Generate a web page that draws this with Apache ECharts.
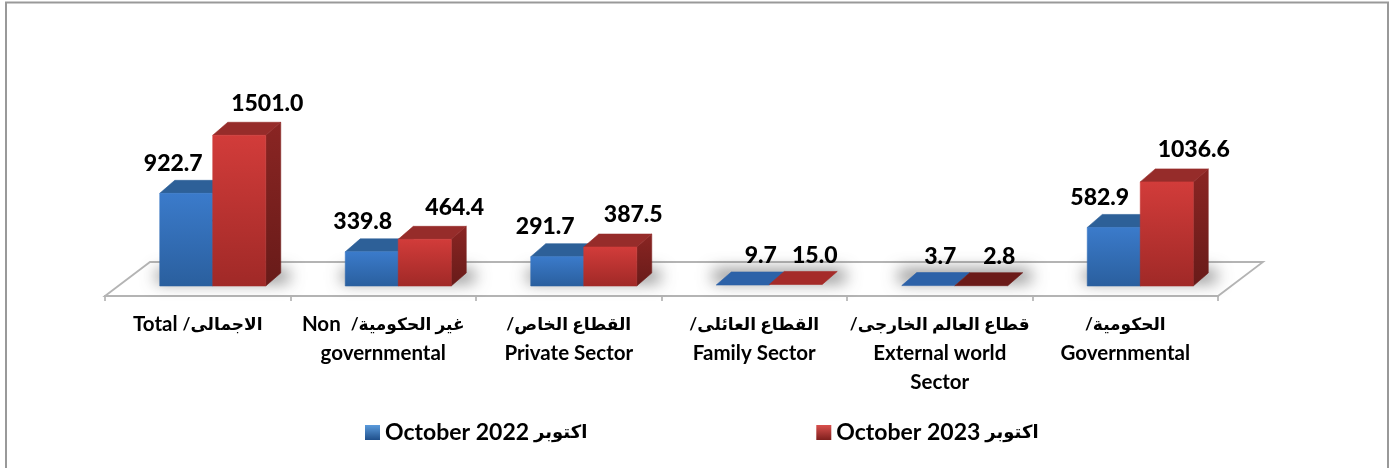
<!DOCTYPE html>
<html><head><meta charset="utf-8">
<style>html,body{margin:0;padding:0;background:#fff}#c{width:1389px;height:468px}</style>
<script src="https://cdn.jsdelivr.net/npm/echarts@6/dist/echarts.min.js"></script>
</head><body><div id="c"></div>
<script>
const categories = [
  'Total /الاجمالى',
  'Non  /غير الحكومية\ngovernmental',
  '/القطاع الخاص\nPrivate Sector',
  '/القطاع العائلى\nFamily Sector',
  '/قطاع العالم الخارجى\nExternal world\nSector',
  '/الحكومية\nGovernmental'
];
const seriesNames = ['October 2022 اكتوبر', 'October 2023 اكتوبر'];
const values2022 = [922.7, 339.8, 291.7, 9.7, 3.7, 582.9];
const values2023 = [1501.0, 464.4, 387.5, 15.0, 2.8, 1036.6];
const labelShift2022 = [-13, -9, -12, 18, 12, -14];
const labelShift2023 = [28, 30, 23, 19, 18, 27];

const FONT = 'Lato, "DejaVu Sans", sans-serif';
const DX = 15, DY = 13;
const FLOOR_DX = 45, FLOOR_DY = 34;
const BAR = 53, SHIFT = 15;
const OFF = 3000;
const grad = (a, b) => ({type:'linear',x:0,y:0,x2:0,y2:1,colorStops:[{offset:0,color:a},{offset:1,color:b}]});
const STYLES = [
  {front:grad('#3b7bcb','#2a5f9e'), top:'#2d6098', flat:'#2d62a8', side:grad('#275a94','#1d4470'), legend:grad('#5b9bdc','#1f4f8a')},
  {front:grad('#d23c3a','#a02927'), top:'#962c2a', flat:'#a52b29', side:grad('#8a2523','#681b19'), legend:grad('#d9504d','#7e1f1d')}
];
// wrap Arabic runs and Latin runs in separate rich-text styles
function richLine(line, ar, la) {
  return line.split(/([\/\u0600-\u06FF][\/\u0600-\u06FF ]*)/).filter(s => s.length)
    .map(s => /[\u0600-\u06FF]/.test(s) ? `{${ar}|${s}}` : `{${la}|${s}}`).join('');
}

function barItem(sIdx, shifts) {
  return function (params, api) {
    const i = api.value(0), v = api.value(1);
    const base = api.coord([i, 0]), head = api.coord([i, v]);
    const x0 = base[0] + SHIFT + (sIdx === 0 ? -BAR : 0), x1 = x0 + BAR;
    const yB = base[1], yT = head[1];
    const st = STYLES[sIdx];
    const poly = (pts, fill) => ({type:'polygon', shape:{points:pts}, style:{fill, stroke:fill, lineWidth:0.6, lineJoin:'round'}});
    const flat = v < 50;
    const topFill = !flat ? st.top : (v < 3 ? '#6b1b19' : st.flat);
    const children = [
      poly([[x0,yT],[x0+DX,yT-DY],[x1+DX,yT-DY],[x1,yT]], topFill)
    ];
    if (!flat) {
      children.unshift(poly([[x1,yB],[x1+DX,yB-DY],[x1+DX,yT-DY],[x1,yT]], st.side));
      children.push(poly([[x0,yB],[x1,yB],[x1,yT],[x0,yT]], st.front));
    }
    children.push({type:'text', z2:20, style:{
      text: api.value(1).toFixed(1),
      x: (x0+x1)/2 + shifts[i],
      y: yT + (flat ? -29 : (sIdx === 0 ? -30 : -32)),
      align:'center', verticalAlign:'middle',
      font:'900 23px '+FONT, fill:'#000'
    }});
    return {type:'group', children};
  };
}

const option = {
  animation:false,
  backgroundColor:'#fff',
  grid:{left:105, right:171, top:115.3, height:180.7},
  xAxis:{
    type:'category', data:categories,
    axisLine:{show:true, onZero:false, lineStyle:{color:'#aaaaaa', width:2}},
    axisTick:{show:true, length:5, alignWithLabel:false, lineStyle:{color:'#aaaaaa', width:1.5}},
    axisLabel:{
      interval:0, margin:14, color:'#000',
      formatter: s => s.split('\n').map(l => richLine(l,'ar','la')).join('\n'),
      rich:{
        ar:{fontFamily:FONT, fontWeight:'bold', fontSize:17, lineHeight:29, color:'#000'},
        la:{fontFamily:FONT, fontWeight:'bold', fontSize:20.5, lineHeight:29, color:'#000'}
      }
    }
  },
  yAxis:{type:'value', min:-100, max:1700, interval:100, show:false, splitLine:{show:false}},
  legend:{
    left:360, top:416, itemWidth:15, itemHeight:15, itemGap:229, icon:'rect',
    data:[
      {name:seriesNames[0], itemStyle:{color:STYLES[0].legend}},
      {name:seriesNames[1], itemStyle:{color:STYLES[1].legend}}
    ],
    formatter: n => richLine(n,'ar','la').replace(' }{', '}{') ,
    textStyle:{
      color:'#000', padding:[0,0,0,0],
      rich:{
        ar:{fontFamily:FONT, fontWeight:'bold', fontSize:18, color:'#000', padding:[0,0,0,5]},
        la:{fontFamily:FONT, fontWeight:'bold', fontSize:23, color:'#000'}
      }
    }
  },
  graphic:[
    {type:'polyline', z:-10, shape:{points:[[6,468],[6,2.5],[1388,2.5],[1388,468]]}, style:{fill:'none', stroke:'#999999', lineWidth:2}},
    {type:'group', z:100, children:[
      {type:'line', shape:{x1:181,y1:246,x2:243,y2:196}, style:{stroke:'#000', lineWidth:1.6}},
      {type:'polyline', shape:{points:[[229,197],[244,195],[238,209]]}, style:{stroke:'#000', fill:'none', lineWidth:1.6}}
    ]}
  ],
  series:[
    {type:'custom', name:'floor', silent:true, clip:false, z:1, data:[[0,0]],
     renderItem(params, api){
       const cs = params.coordSys;
       const L = cs.x, R = cs.x+cs.width, F = cs.y+cs.height;
       return {type:'polygon', shape:{points:[[L,F],[L+FLOOR_DX,F-FLOOR_DY],[R+FLOOR_DX,F-FLOOR_DY],[R,F]]},
               style:{fill:'#fff', stroke:'#b4b4b4', lineWidth:1.8}};
     }},
    {type:'custom', name:'shadow', silent:true, clip:false, z:2, data:categories.map((c,i)=>[i,0]),
     renderItem(params, api){
       const b = api.coord([api.value(0),0]);
       const cx = b[0]+SHIFT;
       // the rect itself sits off-canvas so that only its soft shadow shows on the floor
       return {type:'rect', shape:{x:cx-BAR-3-OFF,y:b[1]-16,width:2*BAR+26,height:12},
               style:{fill:'#777', shadowBlur:16, shadowColor:'rgba(95,95,95,0.8)', shadowOffsetX:OFF}};
     }},
    {type:'custom', name:seriesNames[0], z:3, clip:false, data:values2022.map((v,i)=>[i,v]),
     itemStyle:{color:'#2f6bb5'}, renderItem:barItem(0,labelShift2022)},
    {type:'custom', name:seriesNames[1], z:4, clip:false, data:values2023.map((v,i)=>[i,v]),
     itemStyle:{color:'#b83230'}, renderItem:barItem(1,labelShift2023)}
  ]
};
echarts.init(document.getElementById('c'), null, {renderer:'canvas'}).setOption(option);
</script></body></html>
